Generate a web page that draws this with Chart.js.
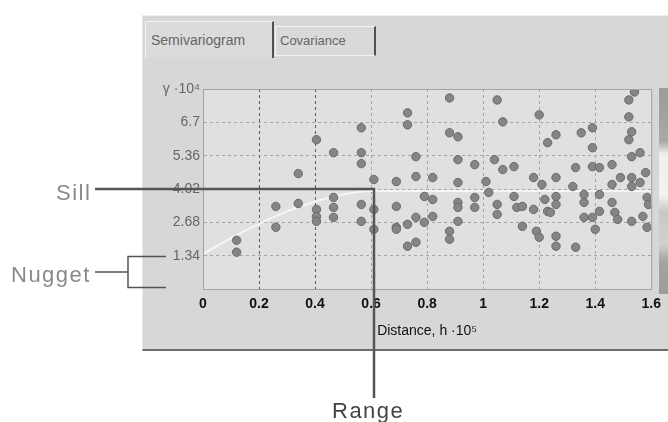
<!DOCTYPE html>
<html>
<head>
<meta charset="utf-8">
<script src="https://cdn.jsdelivr.net/npm/chart.js@4.4.1/dist/chart.umd.min.js"></script>
<style>
  body { margin: 0; background: #fff; }
  #wrap { position: relative; width: 668px; height: 422px; overflow: hidden; font-family: "Liberation Sans", Arial, sans-serif; }
  #panel { position: absolute; left: 142px; top: 15px; width: 526px; height: 333px; background: #d7d7d7; border-top: 1px solid #eeeeee; border-left: 1px solid #e6e6e6; border-bottom: 2px solid #6c6c6c; }
  .tab { position: absolute; color: #666; box-sizing: border-box; white-space: nowrap; }
  #tab1 { left: 145px; top: 21px; width: 129px; height: 37px; background: #dbdbdb; border-top: 1px solid #f3f3f3; border-left: 1px solid #f3f3f3; border-right: 2px solid #505050; font-size: 14px; line-height: 36px; padding-left: 5px; }
  #tab2 { left: 275px; top: 26px; width: 101px; height: 30px; background: #d9d9d9; border: 1px solid #f4f4f4; border-right: 2px solid #505050; font-size: 13px; line-height: 28px; padding-left: 4px; }
  #scroll { position: absolute; left: 659px; top: 88px; width: 9px; height: 206px; background: linear-gradient(#9c9c9c 0%, #a8a8a8 26%, #efefef 32%, #f2f2f2 52%, #c9c9c9 60%, #d0d0d0 76%, #a4a4a4 84%, #9c9c9c 100%); }
  canvas { position: absolute; left: 0; top: 0; }
  .note { position: absolute; font-size: 22px; line-height: 22px; letter-spacing: 1.5px; color: #8a8a8a; }
</style>
</head>
<body>
<div id="wrap">
  <div id="panel"></div>
  <div class="tab" id="tab1">Semivariogram</div>
  <div class="tab" id="tab2">Covariance</div>
  <div id="scroll"></div>
  <canvas id="grafico" width="668" height="422"></canvas>
  <div class="note" style="left:56px; top:182px;">Sill</div>
  <div class="note" style="left:11px; top:264px;">Nugget</div>
  <div class="note" style="left:332px; top:400px; color:#444;">Range</div>
</div>
<script>
// empirical semivariogram cloud: distance (h·10^5) and gamma (·10^4)
const pairDist = [
  0.12, 0.12, 0.26, 0.26, 0.34, 0.34, 0.405, 0.405, 0.405, 0.405, 0.466, 0.466, 0.466, 0.466,
  0.565, 0.565, 0.565, 0.565, 0.565, 0.61, 0.61, 0.61, 0.69, 0.69, 0.69, 0.69,
  0.73, 0.73, 0.73, 0.73, 0.76, 0.76, 0.76, 0.76, 0.79, 0.79, 0.82, 0.82, 0.82,
  0.88, 0.88, 0.88, 0.88, 0.91, 0.91, 0.91, 0.91, 0.91, 0.91, 0.97, 0.97, 0.97,
  1.01, 1.02, 1.04, 1.05, 1.05, 1.05, 1.07, 1.07, 1.11, 1.11, 1.12, 1.14, 1.14,
  1.18, 1.18, 1.19, 1.2, 1.2, 1.21, 1.22, 1.23, 1.23, 1.24, 1.26, 1.26, 1.26, 1.26, 1.26, 1.26,
  1.32, 1.33, 1.33, 1.35, 1.36, 1.36, 1.36, 1.39, 1.39, 1.39, 1.39, 1.40, 1.415, 1.415, 1.415,
  1.46, 1.46, 1.46, 1.47, 1.48, 1.49, 1.52, 1.52, 1.52, 1.53, 1.53, 1.53, 1.53, 1.53,
  1.54, 1.56, 1.56, 1.57, 1.58, 1.585, 1.585, 1.59
]
const pairGamma = [
  1.96, 1.48, 3.32, 2.48, 4.64, 3.44, 6.0, 3.2, 2.92, 2.72, 5.48, 3.68, 3.28, 2.88,
  6.48, 5.48, 5.04, 3.4, 2.72, 4.4, 3.2, 2.4, 4.32, 3.32, 2.48, 2.4,
  7.08, 6.6, 2.6, 1.72, 5.32, 4.52, 2.88, 1.88, 3.72, 2.68, 4.48, 3.6, 2.92,
  7.68, 6.28, 2.32, 2.0, 6.12, 5.2, 4.28, 3.48, 3.28, 2.72, 5.0, 3.68, 3.28,
  4.32, 3.88, 5.2, 7.6, 3.4, 3.0, 6.72, 4.8, 4.92, 3.72, 3.28, 3.32, 2.52,
  4.48, 3.2, 2.32, 2.08, 7.0, 4.2, 3.6, 5.88, 3.12, 3.08, 6.2, 4.48, 3.72, 3.4, 2.12, 1.72,
  4.12, 4.88, 1.68, 6.28, 3.8, 3.48, 2.88, 6.48, 5.68, 4.92, 2.88, 2.4, 4.88, 3.12, 3.8,
  5.0, 4.2, 3.48, 3.08, 2.8, 4.48, 7.6, 6.92, 6.0, 6.32, 5.32, 4.48, 4.12, 2.72,
  7.92, 5.48, 4.28, 2.92, 4.68, 3.68, 2.48, 3.4
]

// fitted model curve
const modelDist = [0, 0.1, 0.2, 0.3, 0.4, 0.5, 0.6, 1.6]
const modelGamma = [1.4, 2.05, 2.62, 3.12, 3.52, 3.8, 3.94, 3.94]

// annotated parameters
const sillLevel = 4.02
const nuggetLevel = 1.34
const rangeDist = 0.61

// ticks
const xTickVals = [0, 0.2, 0.4, 0.6, 0.8, 1, 1.2, 1.4, 1.6]
const xTickLabels = ['0', '0.2', '0.4', '0.6', '0.8', '1', '1.2', '1.4', '1.6']
const yTickVals = [0, 1.34, 2.68, 4.02, 5.36, 6.7, 8.04]
const yTickLabels = ['', '1.34', '2.68', '4.02', '5.36', '6.7', 'γ ·10⁴']

Chart.defaults.font.family = '"Liberation Sans", Arial, sans-serif'

const quadro = {
  id: 'quadro',
  beforeDraw(chart) {
    const { ctx, chartArea: a } = chart
    ctx.save()
    ctx.fillStyle = '#e0e0e0'
    ctx.fillRect(a.left, a.top, a.right - a.left, a.bottom - a.top)
    ctx.restore()
  },
  afterDraw(chart) {
    const { ctx, chartArea: a, scales: { x, y } } = chart
    ctx.save()
    ctx.strokeStyle = '#a2a2a2'
    ctx.lineWidth = 1
    ctx.strokeRect(a.left + 0.5, a.top + 0.5, a.right - a.left, a.bottom - a.top)

    // sill + range
    const sy = Math.round(y.getPixelForValue(sillLevel))
    const rx = Math.round(x.getPixelForValue(rangeDist))
    ctx.strokeStyle = '#555'
    ctx.lineWidth = 2.5
    ctx.beginPath()
    ctx.moveTo(95, sy)
    ctx.lineTo(rx, sy)
    ctx.lineTo(rx, 398)
    ctx.stroke()

    // nugget bracket
    const ny = Math.round(y.getPixelForValue(nuggetLevel)) + 0.5
    const zy = Math.round(y.getPixelForValue(0)) - 1.5
    ctx.lineWidth = 1.5
    ctx.beginPath()
    ctx.moveTo(95, (ny + zy) / 2)
    ctx.lineTo(128, (ny + zy) / 2)
    ctx.moveTo(166, ny)
    ctx.lineTo(128, ny)
    ctx.lineTo(128, zy)
    ctx.lineTo(166, zy)
    ctx.stroke()
    ctx.restore()
  }
}

const grafico = new Chart(document.getElementById('grafico'), {
  type: 'scatter',
  data: {
    datasets: [
      {
        label: 'pairs',
        data: pairDist.map((d, i) => ({ x: d, y: pairGamma[i] })),
        pointRadius: 4.2,
        pointBackgroundColor: '#858585',
        pointBorderColor: '#6a6a6a',
        pointBorderWidth: 1,
        order: 1
      },
      {
        type: 'line',
        label: 'model',
        data: modelDist.map((d, i) => ({ x: d, y: modelGamma[i] })),
        borderColor: '#f6f6f6',
        borderWidth: 2,
        pointRadius: 0,
        cubicInterpolationMode: 'monotone',
        order: 2
      }
    ]
  },
  options: {
    responsive: false,
    animation: false,
    layout: { padding: { left: 153, top: 89, right: 16, bottom: 80 } },
    plugins: { legend: { display: false }, tooltip: { enabled: false } },
    scales: {
      x: {
        type: 'linear',
        min: 0,
        max: 1.6,
        afterBuildTicks: s => { s.ticks = xTickVals.map(v => ({ value: v })) },
        afterFit: s => { s.height = 53 },
        grid: {
          drawTicks: false,
          color: c => (c.index === 0 || c.index === xTickVals.length - 1) ? 'transparent' : (c.index <= 2 ? '#5a5a5a' : '#a6a6a6')
        },
        border: { color: '#a2a2a2', dash: [3, 3] },
        ticks: {
          padding: 7,
          color: '#111',
          font: { size: 14, weight: 'bold' },
          callback: (v, i) => xTickLabels[i]
        },
        title: {
          display: true,
          text: 'Distance, h ·10⁵',
          color: '#111',
          font: { size: 14 },
          padding: { top: 0, bottom: 2 }
        }
      },
      y: {
        min: 0,
        max: 8.04,
        afterBuildTicks: s => { s.ticks = yTickVals.map(v => ({ value: v })) },
        afterFit: s => { s.width = 50 },
        grid: {
          drawTicks: false,
          color: c => (c.index === 0 || c.index === yTickVals.length - 1) ? 'transparent' : '#a6a6a6'
        },
        border: { color: '#a2a2a2', dash: [3, 3] },
        ticks: {
          padding: 3,
          color: '#666',
          font: { size: 14 },
          callback: (v, i) => yTickLabels[i]
        }
      }
    }
  },
  plugins: [quadro]
})
</script>
</body>
</html>
